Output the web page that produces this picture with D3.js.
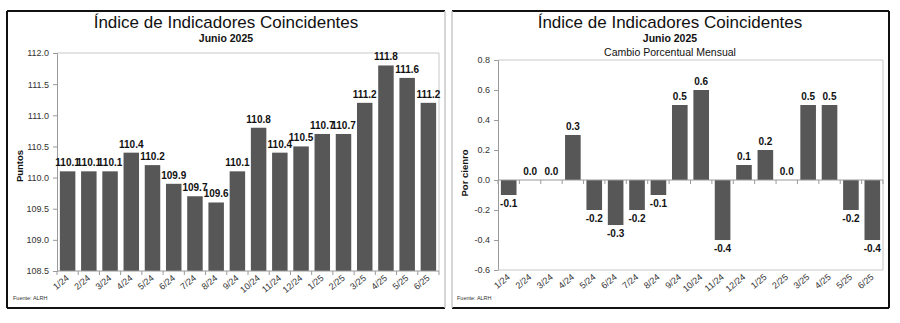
<!DOCTYPE html>
<html>
<head>
<meta charset="utf-8">
<script src="https://cdn.jsdelivr.net/npm/d3@7"></script>
<style>
  html, body { margin: 0; padding: 0; background: #fff; }
  svg { display: block; font-family: "Liberation Sans", Arial, sans-serif; }
</style>
</head>
<body>
<svg id="chart" width="900" height="323"></svg>
<script>
// Monthly periods shown on both panels
const months = ["1/24","2/24","3/24","4/24","5/24","6/24","7/24","8/24","9/24","10/24","11/24","12/24","1/25","2/25","3/25","4/25","5/25","6/25"];
// Coincident indicators index (points)
const indexValues = [110.1,110.1,110.1,110.4,110.2,109.9,109.7,109.6,110.1,110.8,110.4,110.5,110.7,110.7,111.2,111.8,111.6,111.2];
// Monthly percentage change
const changeValues = [-0.1,0.0,0.0,0.3,-0.2,-0.3,-0.2,-0.1,0.5,0.6,-0.4,0.1,0.2,0.0,0.5,0.5,-0.2,-0.4];
// Axis ticks
const indexTicks = [108.5,109.0,109.5,110.0,110.5,111.0,111.5,112.0];
const changeTicks = [-0.6,-0.4,-0.2,0.0,0.2,0.4,0.6,0.8];

const titleText = "Índice de Indicadores Coincidentes";
const subtitleText = "Junio 2025";
const sourceText = "Fuente: ALRH";

const svg = d3.select("#chart");
const barColor = "#575757";
const frameGray = "#c8c8c8";
const axisGray = "#9a9a9a";
// one decimal, plain hyphen for negatives
const fmt1 = d => (Math.abs(d) < 1e-9 ? 0 : d).toFixed(1);

// Panel frames
function frame(x0, y0, x1, y1, grayLeft) {
  const g = svg.append("g");
  g.append("line").attr("x1", x0).attr("y1", y0).attr("x2", x1).attr("y2", y0).attr("stroke", "#111").attr("stroke-width", 2);
  g.append("line").attr("x1", x0).attr("y1", y1).attr("x2", x1).attr("y2", y1).attr("stroke", "#111").attr("stroke-width", 2);
  g.append("line").attr("x1", x0).attr("y1", y0).attr("x2", x0).attr("y2", y1)
    .attr("stroke", grayLeft ? frameGray : "#111").attr("stroke-width", grayLeft ? 1.5 : 2);
  g.append("line").attr("x1", x1).attr("y1", y0).attr("x2", x1).attr("y2", y1)
    .attr("stroke", grayLeft ? "#111" : frameGray).attr("stroke-width", grayLeft ? 2 : 1.5);
}
frame(7, 11, 445, 308, false);
frame(452, 11, 889, 308, true);

function titles(cx, withChange) {
  svg.append("text").attr("x", cx).attr("y", 28).attr("text-anchor", "middle")
    .attr("font-size", 17).attr("fill", "#111").text(titleText);
  svg.append("text").attr("x", cx).attr("y", 42).attr("text-anchor", "middle")
    .attr("font-size", 10.5).attr("font-weight", "bold").attr("fill", "#111").text(subtitleText);
  if (withChange) {
    svg.append("text").attr("x", cx).attr("y", 56).attr("text-anchor", "middle")
      .attr("font-size", 10.5).attr("fill", "#111").text("Cambio Porcentual Mensual");
  }
}

function panel(opts) {
  const { left, right, top, bottom, domain, ticks, values, yLabel, yLabelX, yLabelY } = opts;
  const x = d3.scaleBand().domain(months).range([left, right]).paddingInner(0.27).paddingOuter(0.135);
  const y = d3.scaleLinear().domain(domain).range([bottom, top]);
  const g = svg.append("g");

  // plot area outline (top and right)
  g.append("path")
    .attr("d", `M${left},${top}H${right}V${bottom}`)
    .attr("fill", "none").attr("stroke", frameGray).attr("stroke-width", 1);

  // y axis
  const yAxis = g.append("g").attr("transform", `translate(${left},0)`)
    .call(d3.axisLeft(y).tickValues(ticks).tickFormat(fmt1).tickSize(4).tickPadding(4));
  yAxis.select(".domain").attr("stroke", axisGray);
  yAxis.selectAll(".tick line").attr("stroke", axisGray);
  yAxis.selectAll("text").attr("font-size", 9).attr("fill", "#333")
    .attr("font-family", "Liberation Sans, Arial, sans-serif");

  // bars
  const base = opts.baseline;
  g.selectAll("rect.bar").data(values).join("rect")
    .attr("class", "bar")
    .attr("x", (d, i) => x(months[i]))
    .attr("width", x.bandwidth())
    .attr("y", d => Math.min(y(d), y(base)))
    .attr("height", d => Math.abs(y(d) - y(base)))
    .attr("fill", barColor);

  // category axis line with ticks between categories
  const axisY = y(base);
  g.append("line").attr("x1", left).attr("x2", right).attr("y1", axisY).attr("y2", axisY)
    .attr("stroke", axisGray).attr("stroke-width", 1);
  const step = x.step();
  const edges = d3.range(months.length + 1).map(i => left + i * step);
  g.selectAll("line.xt").data(edges).join("line").attr("class", "xt")
    .attr("x1", d => d).attr("x2", d => d).attr("y1", axisY).attr("y2", axisY + 4)
    .attr("stroke", axisGray);
  if (opts.bottomLine) {
    g.append("line").attr("x1", left).attr("x2", right).attr("y1", bottom).attr("y2", bottom)
      .attr("stroke", frameGray).attr("stroke-width", 1);
  }

  // rotated month labels below the plot
  g.selectAll("text.xl").data(months).join("text").attr("class", "xl")
    .attr("transform", d => `translate(${x(d) + x.bandwidth() / 2 + 2},${bottom + 8}) rotate(-40)`)
    .attr("text-anchor", "end").attr("font-size", 9).attr("fill", "#333").text(d => d);

  // value labels
  g.selectAll("text.vl").data(values).join("text").attr("class", "vl")
    .attr("x", (d, i) => x(months[i]) + x.bandwidth() / 2)
    .attr("y", d => d < base ? y(d) + 12 : y(d) - 5)
    .attr("text-anchor", "middle").attr("font-size", 10).attr("font-weight", "bold").attr("fill", "#111")
    .text(d => fmt1(d));

  // y axis title
  g.append("text")
    .attr("transform", `translate(${yLabelX},${yLabelY}) rotate(-90)`)
    .attr("text-anchor", "middle").attr("font-size", 9.5).attr("font-weight", "bold").attr("fill", "#111")
    .text(yLabel);
}

titles(226, false);
panel({
  left: 57, right: 439, top: 53, bottom: 271,
  domain: [108.5, 112.0], ticks: indexTicks, values: indexValues,
  baseline: 108.5, yLabel: "Puntos", yLabelX: 23, yLabelY: 166,
  bottomLine: false
});

titles(670, true);
panel({
  left: 498, right: 883, top: 60, bottom: 270,
  domain: [-0.6, 0.8], ticks: changeTicks, values: changeValues,
  baseline: 0, yLabel: "Por cienro", yLabelX: 468, yLabelY: 173,
  bottomLine: true
});

svg.append("text").attr("x", 13).attr("y", 300).attr("font-size", 5.5).attr("fill", "#333").text(sourceText);
svg.append("text").attr("x", 457).attr("y", 300).attr("font-size", 5.5).attr("fill", "#333").text(sourceText);
</script>
</body>
</html>
